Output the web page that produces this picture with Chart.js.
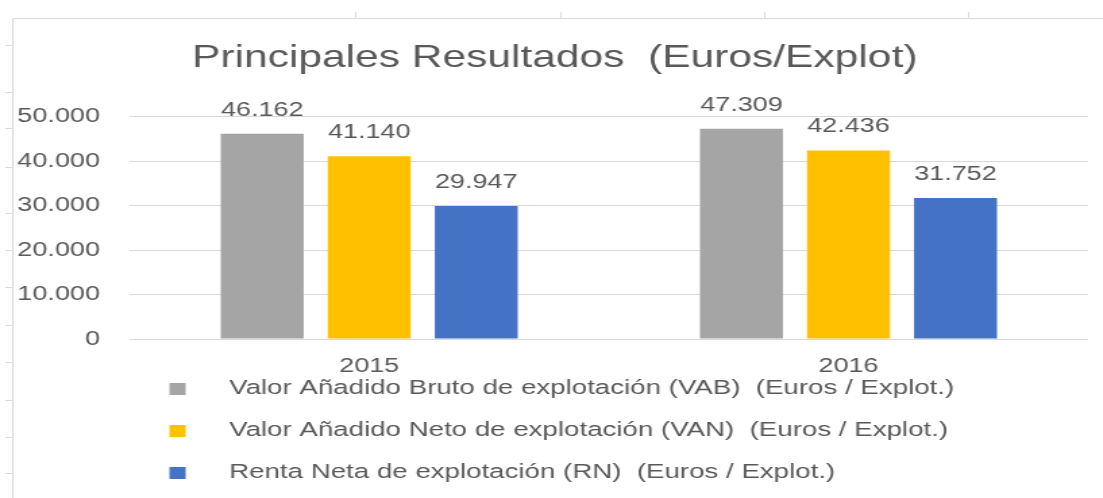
<!DOCTYPE html>
<html>
<head>
    <meta charset="utf-8">
    <title>Principales Resultados (Euros/Explot)</title>
    <script src="https://cdn.jsdelivr.net/npm/chart.js"></script>
    <style>
        body { margin: 0; background: #fff; overflow: hidden; }
        /* the original picture is stretched sideways, so the chart is drawn narrow and widened */
        #wrap { width: 817px; height: 498px; transform: scaleX(1.35); transform-origin: 0 0; }
    </style>
</head>
<body>
<div id="wrap"><canvas id="resChart"></canvas></div>

<script>
const years = ['2015', '2016'];
const vab = [46162, 47309];
const van = [41140, 42436];
const rn = [29947, 31752];
const seriesNames = [
    'Valor Añadido Bruto de explotación (VAB)  (Euros / Explot.)',
    'Valor Añadido Neto de explotación (VAN)  (Euros / Explot.)',
    'Renta Neta de explotación (RN)  (Euros / Explot.)'
];
const yMin = 0, yMax = 50000, yStep = 10000;

const txt = '#595959';
const fontFam = '"Liberation Sans", Arial, sans-serif';
const fmt = v => v.toLocaleString('de-DE');

// small square with empty room on its right, used as legend marker
function legendMark(color) {
    const c = document.createElement('canvas');
    c.width = 42;
    c.height = 12;
    const g = c.getContext('2d');
    g.fillStyle = color;
    g.fillRect(8, 0, 12, 12);
    return c;
}

const valueLabels = {
    id: 'valueLabels',
    afterDatasetsDraw(chart) {
        const ctx = chart.ctx;
        ctx.save();
        ctx.font = '20px ' + fontFam;
        ctx.fillStyle = txt;
        ctx.textAlign = 'center';
        ctx.textBaseline = 'alphabetic';
        chart.data.datasets.forEach((ds, i) => {
            chart.getDatasetMeta(i).data.forEach((bar, j) => {
                ctx.fillText(fmt(ds.data[j]), bar.x, bar.y - 18);
            });
        });
        ctx.restore();
    }
};

// faint spreadsheet cell borders round the chart
const sheetLines = {
    id: 'sheetLines',
    beforeDraw(chart) {
        const ctx = chart.ctx;
        const w = chart.width, h = chart.height;
        ctx.save();
        ctx.strokeStyle = '#dadada';
        ctx.lineWidth = 1;
        ctx.beginPath();
        ctx.moveTo(9.5, 18.5); ctx.lineTo(w, 18.5);
        ctx.moveTo(9.5, 18.5); ctx.lineTo(9.5, h);
        [263, 415, 566, 717].forEach(x => { ctx.moveTo(x + 0.5, 12); ctx.lineTo(x + 0.5, 18); });
        [45, 92, 128, 167, 213, 250, 287, 325, 362, 400, 437, 473].forEach(y => { ctx.moveTo(4, y + 0.5); ctx.lineTo(9, y + 0.5); });
        ctx.stroke();
        ctx.restore();
    }
};

const resChart = new Chart(document.getElementById('resChart').getContext('2d'), {
    type: 'bar',
    data: {
        labels: years,
        datasets: [
            { label: seriesNames[0], data: vab, backgroundColor: '#a5a5a5', pointStyle: legendMark('#a5a5a5') },
            { label: seriesNames[1], data: van, backgroundColor: '#ffc000', pointStyle: legendMark('#ffc000') },
            { label: seriesNames[2], data: rn, backgroundColor: '#4472c4', pointStyle: legendMark('#4472c4') }
        ]
    },
    options: {
        responsive: true,
        maintainAspectRatio: false,
        animation: false,
        categoryPercentage: 0.67,
        barPercentage: 0.775,
        layout: { padding: { left: 0, right: 11, top: 0, bottom: 5 } },
        plugins: {
            title: {
                display: true,
                // leading en space nudges the centred title a little to the right, as in the original
                text: '\u2002Principales Resultados  (Euros/Explot)',
                color: txt,
                font: { family: fontFam, size: 31.5, weight: 'normal' },
                padding: { top: 39, bottom: 40 }
            },
            legend: {
                position: 'bottom',
                align: 'start',
                fullSize: false,
                labels: {
                    usePointStyle: true,
                    pointStyleWidth: 42,
                    padding: 21.5,
                    color: txt,
                    font: { family: fontFam, size: 20.5 }
                }
            },
            tooltip: { enabled: false }
        },
        scales: {
            x: {
                grid: { display: false },
                border: { display: false },
                // mirrored (no clipping) with a negative padding so the labels sit below the thin axis box
                ticks: { color: txt, font: { family: fontFam, size: 20 }, mirror: true, padding: -39 },
                afterFit: s => { s.height = 18; }
            },
            y: {
                min: yMin,
                max: yMax,
                grid: { color: '#d9d9d9', drawTicks: false },
                border: { display: false },
                ticks: {
                    stepSize: yStep,
                    color: txt,
                    font: { family: fontFam, size: 20 },
                    padding: 22,
                    callback: v => fmt(v)
                },
                afterFit: s => { s.width = 96; }
            }
        }
    },
    plugins: [valueLabels, sheetLines]
});
</script>
</body>
</html>
